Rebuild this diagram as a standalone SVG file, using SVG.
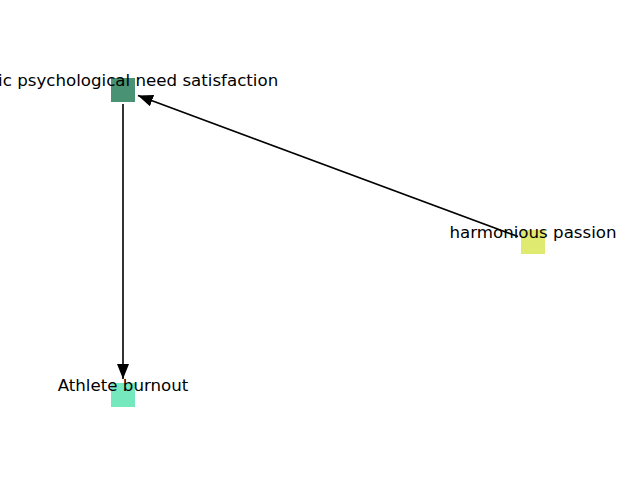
<svg xmlns="http://www.w3.org/2000/svg" width="640" height="480" viewBox="0 0 640 480">
<style>
.lbl{font-family:"DejaVu Sans",sans-serif;font-size:16.67px;fill:#000;text-anchor:middle;dominant-baseline:central}
.edge{stroke:#000;stroke-width:1.6;fill:none}
</style>
<defs>
<marker id="arr" markerWidth="16" markerHeight="12" refX="15" refY="6" orient="auto" markerUnits="userSpaceOnUse">
<path d="M0,0 L15,6 L0,12 Z" fill="#000"/>
</marker>
</defs>
<rect width="640" height="480" fill="#fff"/>
<g id="connectors">
<line class="edge" x1="518" y1="236.5" x2="138" y2="95.5" marker-end="url(#arr)"/>
<line class="edge" x1="123" y1="104" x2="123" y2="379" marker-end="url(#arr)"/>
</g>
<g id="node-bpns">
<rect x="111" y="78" width="24" height="24" fill="#4a9274"/>
<text class="lbl" x="123" y="80">Basic psychological need satisfaction</text>
</g>
<g id="node-hp">
<rect x="521" y="230" width="24" height="24" fill="#deea70"/>
<text class="lbl" x="533" y="232">harmonious passion</text>
</g>
<g id="node-ab">
<rect x="111" y="383" width="24" height="24" fill="#75e8be"/>
<text class="lbl" x="123" y="385">Athlete burnout</text>
</g>
</svg>
